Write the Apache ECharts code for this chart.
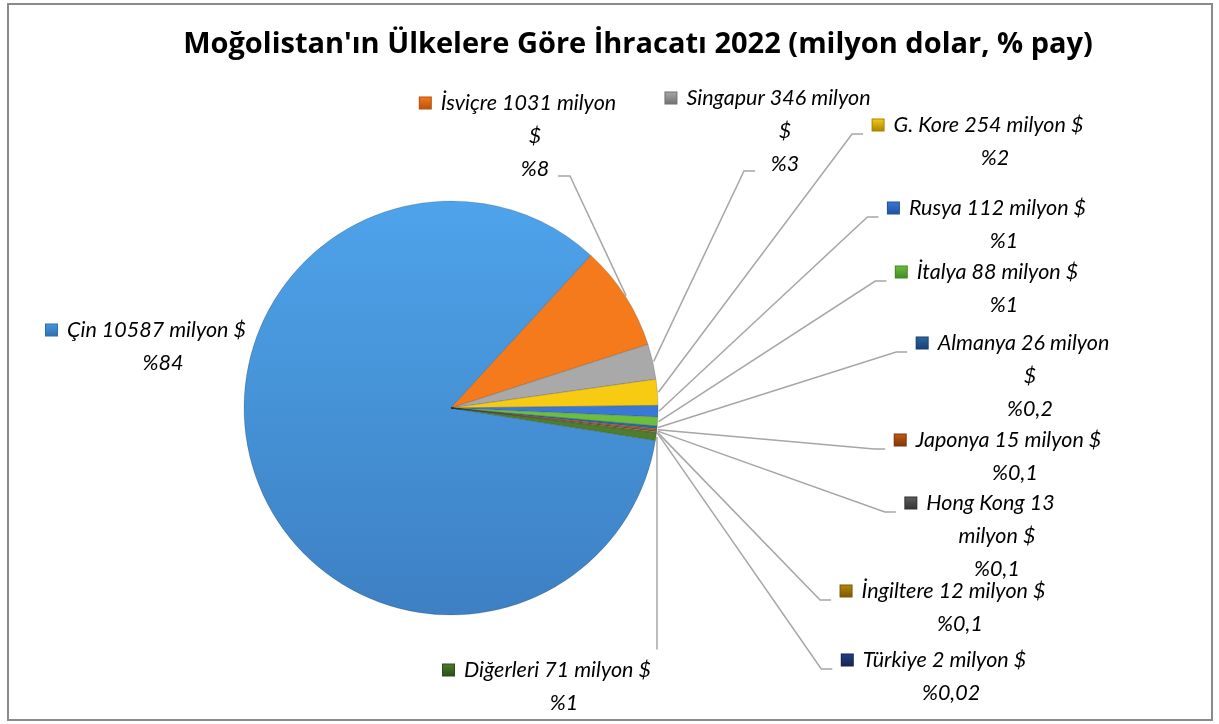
<!DOCTYPE html>
<html>
<head>
<meta charset="utf-8">
<script src="https://cdn.jsdelivr.net/npm/echarts@6/dist/echarts.min.js"></script>
<style>
  html, body { margin: 0; padding: 0; background: #fff; }
  #chart { width: 1219px; height: 724px; }
</style>
</head>
<body>
<div id="chart"></div>
<script>
// ---- data ----
const chartTitle = "Moğolistan'ın Ülkelere Göre İhracatı 2022 (milyon dolar, % pay)";
const categories = ['Çin', 'İsviçre', 'Singapur', 'G. Kore', 'Rusya', 'İtalya', 'Almanya', 'Japonya', 'Hong Kong', 'İngiltere', 'Türkiye', 'Diğerleri'];
const exportValues = [10587, 1031, 346, 254, 112, 88, 26, 15, 13, 12, 2, 71];
const shareLabels = ['84', '8', '3', '2', '1', '1', '0,2', '0,1', '0,1', '0,1', '0,02', '1'];

// ---- styling / layout ----
const sliceColors = ['#4797de', '#f57a1c', '#a9a9a9', '#f7cb12', '#3a78d6', '#6cbf3e', '#2b68a6', '#c45a14', '#5f5f5f', '#b8870c', '#25418a', '#4d7d2d'];
const markerBorders = ['#2f6fae', '#b5520c', '#707070', '#a88400', '#23509a', '#3f8a22', '#173f6c', '#7f3608', '#333333', '#7a5800', '#14224d', '#2c4b18'];
const firstLineWords = [null, 3, 3, null, null, null, 3, null, 3, null, null, null];
const labelCenterX = [146, 518, 768, 978, 987, 987, 1013, 998, 980, 943, 934, 547];
const labelFirstLineY = [330, 103, 98, 125, 208, 272, 343, 440, 503, 591, 660, 670];
const leaderMode = ['N', 'BR', 'BL', 'L', 'L', 'L', 'L', 'L', 'L', 'L', 'L', 'T'];

const PIE_CX = 451, PIE_CY = 408, PIE_R = 207;
const START_ANGLE = -9;
const LH = 33;
const FONT = 'Lato, "Open Sans", sans-serif';
const TITLE_FONT = '"Open Sans", Lato, sans-serif';

const total = exportValues.reduce((a, b) => a + b, 0);

function labelText(i) {
  const words = (categories[i] + ' ' + exportValues[i] + ' milyon $').split(' ');
  const lines = [];
  if (firstLineWords[i]) {
    lines.push(words.slice(0, firstLineWords[i]).join(' '));
    lines.push(words.slice(firstLineWords[i]).join(' '));
  } else {
    lines.push(words.join(' '));
  }
  lines.push('%' + shareLabels[i]);
  let s = '{m' + i + '| }{g| }{t|' + lines[0] + '}';
  for (let k = 1; k < lines.length; k++) s += '\n{c|' + lines[k] + '}';
  return s;
}

const rich = {
  g: { width: 10 },
  t: { fontFamily: FONT, fontStyle: 'italic', fontSize: 21.5, color: '#000', lineHeight: LH },
  c: { fontFamily: FONT, fontStyle: 'italic', fontSize: 21.5, color: '#000', lineHeight: LH, padding: [0, 0, 0, 34] }
};
categories.forEach((c, i) => {
  rich['m' + i] = {
    width: 11, height: 11, fontSize: 8,
    backgroundColor: {
      type: 'linear', x: 0, y: 0, x2: 0, y2: 1,
      colorStops: [{ offset: 0, color: sliceColors[i] }, { offset: 1, color: markerBorders[i] }]
    },
    borderColor: markerBorders[i], borderWidth: 1
  };
});

const seriesData = categories.map((name, i) => {
  const d = { name: name, value: exportValues[i], itemStyle: { color: sliceColors[i] } };
  if (i === 0) {
    d.itemStyle.color = {
      type: 'linear', x: 0, y: 0, x2: 0, y2: 1,
      colorStops: [{ offset: 0, color: '#4ea3ea' }, { offset: 1, color: '#3d80c3' }]
    };
    d.labelLine = { show: false };
  }
  return d;
});

function midAngleRad(i) {
  let cum = 0;
  for (let k = 0; k < i; k++) cum += exportValues[k];
  const deg = START_ANGLE - 360 * (cum + exportValues[i] / 2) / total;
  return deg * Math.PI / 180;
}

const chart = echarts.init(document.getElementById('chart'), null, { renderer: 'canvas' });
chart.setOption({
  animation: false,
  backgroundColor: '#fff',
  title: {
    text: chartTitle,
    left: 633,
    textAlign: 'center',
    top: 25,
    textStyle: { fontFamily: TITLE_FONT, fontWeight: 'bold', fontSize: 29, color: '#000' }
  },
  graphic: [{
    type: 'rect', silent: true,
    shape: { x: 8, y: 4, width: 1204, height: 716 },
    style: { fill: 'none', stroke: '#8a8a8a', lineWidth: 2 }
  }],
  series: [{
    type: 'pie',
    center: [PIE_CX, PIE_CY],
    radius: PIE_R,
    startAngle: START_ANGLE,
    clockwise: true,
    avoidLabelOverlap: false,
    silent: true,
    itemStyle: { borderColor: 'rgba(40,40,40,0.35)', borderWidth: 0.6 },
    label: {
      show: true, position: 'outside', align: 'center',
      formatter: p => labelText(p.dataIndex),
      rich: rich
    },
    labelLine: { show: true, smooth: false, lineStyle: { color: '#a6a6a6', width: 1.5 } },
    labelLayout: function (params) {
      const i = params.dataIndex;
      const w = params.labelRect.width, h = params.labelRect.height;
      const cx = labelCenterX[i];
      const top = labelFirstLineY[i] - LH / 2;
      const left = cx - w / 2;
      const nLines = Math.max(1, Math.round(h / LH));
      const y1 = labelFirstLineY[i];
      const yLast = top + (nLines - 0.5) * LH;
      const a = midAngleRad(i);
      const anchor = [PIE_CX + (PIE_R + 1) * Math.cos(a), PIE_CY - (PIE_R + 1) * Math.sin(a)];
      const out = { x: cx, y: top, align: 'center', verticalAlign: 'top' };
      const mode = leaderMode[i];
      if (mode === 'L') {
        out.labelLinePoints = [anchor, [left - 20, y1 + 9], [left - 9, y1 + 9]];
      } else if (mode === 'BR') {
        out.labelLinePoints = [anchor, [cx + 52, yLast + 7], [cx + 40, yLast + 7]];
      } else if (mode === 'BL') {
        out.labelLinePoints = [anchor, [cx - 24, yLast + 7], [cx - 13, yLast + 7]];
      } else if (mode === 'T') {
        out.labelLinePoints = [anchor, [anchor[0], top - 4], [anchor[0], top - 4]];
      }
      return out;
    },
    data: seriesData
  }]
});
</script>
</body>
</html>
